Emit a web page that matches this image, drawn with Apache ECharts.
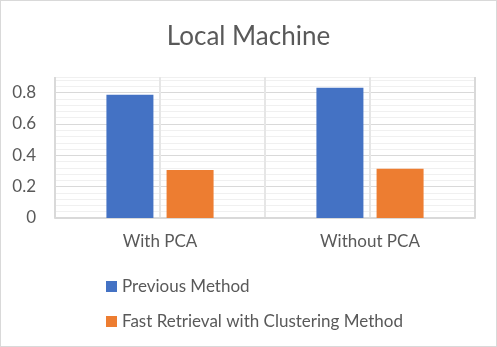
<!DOCTYPE html>
<html><head><meta charset="utf-8">
<script src="https://cdn.jsdelivr.net/npm/echarts@6/dist/echarts.min.js"></script>
<style>
html,body{margin:0;padding:0;background:#fff;}
#wrap{position:relative;width:497px;height:347px;}
#c{width:497px;height:347px;}
#b{position:absolute;left:0;top:0;width:497px;height:347px;box-sizing:border-box;border:1px solid #d9d9d9;pointer-events:none;}
</style></head>
<body><div id="wrap"><div id="c"></div><div id="b"></div></div>
<script>
const titleText = 'Local Machine';
const categories = ['With PCA', 'Without PCA'];
const seriesNames = ['Previous Method', 'Fast Retrieval with Clustering Method'];
const previousMethod = [0.787, 0.832];
const fastRetrieval = [0.307, 0.314];
const yTickLabels = ['0', '0.2', '0.4', '0.6', '0.8'];

const FONT = 'Lato';
const TXT = '#595959';
const chart = echarts.init(document.getElementById('c'), null, {renderer:'canvas'});
const majorC = '#d9d9d9', minorC = '#f0f0f0';
chart.setOption({
  animation:false,
  backgroundColor:'#fff',
  title:{text:titleText,left:'center',top:19,textStyle:{fontFamily:FONT,fontSize:26,fontWeight:'normal',color:TXT}},
  grid:{left:55,right:22,top:77,bottom:129,containLabel:false},
  legend:{orient:'vertical',left:101,top:273,itemWidth:11,itemHeight:11,itemGap:18,icon:'rect',
    textStyle:{fontFamily:FONT,fontSize:17,color:TXT,padding:[0,0,0,0]},data:seriesNames},
  xAxis:[
    {type:'category',data:categories,boundaryGap:true,
     axisLine:{lineStyle:{color:majorC,width:2}},axisTick:{show:false},splitLine:{show:false},
     axisLabel:{fontFamily:FONT,fontSize:17,color:TXT,margin:15}},
    {type:'value',min:0,max:4,interval:1,position:'top',
     axisLabel:{show:false},axisLine:{show:false},axisTick:{show:false},
     splitLine:{show:true,lineStyle:{color:['#d9d9d9','#e6e6e6','#e6e6e6','#e6e6e6','#d9d9d9'],width:2}}}
  ],
  yAxis:{type:'value',min:0,max:0.9,interval:0.04,
    axisLine:{show:false},axisTick:{show:false},
    axisLabel:{fontFamily:FONT,fontSize:17,color:TXT,margin:19,showMaxLabel:false,
      formatter:function(v){const k=Math.round(v/0.2); if(Math.abs(v-k*0.2)<1e-6 && k<yTickLabels.length) return yTickLabels[k]; return '';}},
    splitLine:{show:true,lineStyle:{color:[majorC,minorC,minorC,minorC,minorC],width:1}}},
  series:[
    {name:seriesNames[0],type:'bar',data:previousMethod,barWidth:47,barGap:'28%',itemStyle:{color:'#4472C4'}},
    {name:seriesNames[1],type:'bar',data:fastRetrieval,barWidth:47,barGap:'28%',itemStyle:{color:'#ED7D31'}}
  ]
});
</script></body></html>
